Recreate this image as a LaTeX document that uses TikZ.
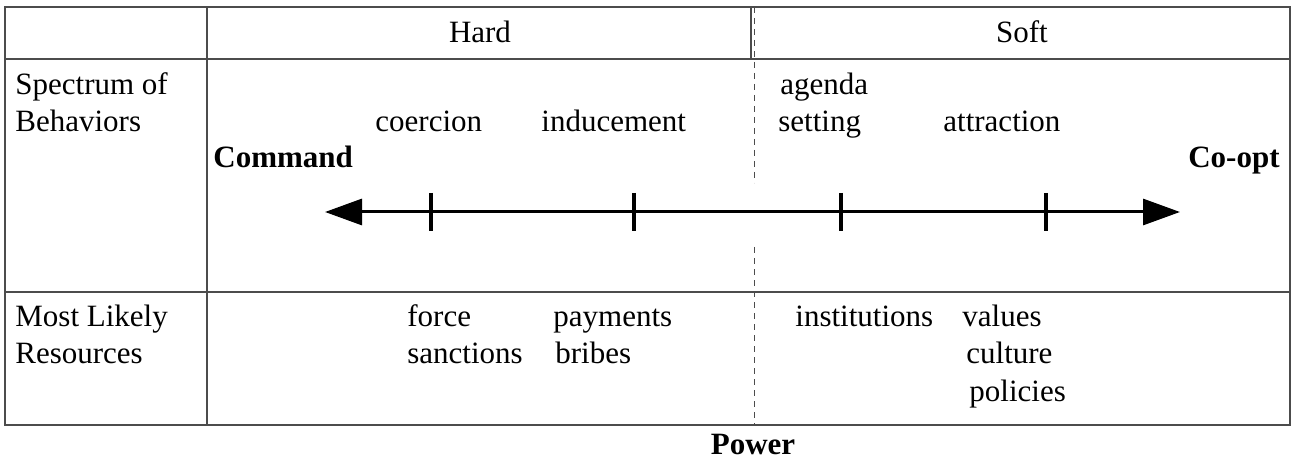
\documentclass[tikz,border=0pt]{standalone}
\usepackage{fontspec}
\setmainfont{Liberation Serif}
\usetikzlibrary{arrows.meta,calc}
\begin{document}
\begin{tikzpicture}[x=0.5pt, y=-0.5pt, font=\fontsize{15.5}{18.5}\selectfont]
    \tikzstyle{grid line}=[draw=black!70, line width=0.8pt]
    \tikzstyle{divider}=[draw=black!70, line width=0.5pt, dash pattern=on 3pt off 2.5pt]
    \tikzstyle{word}=[inner sep=0pt, anchor=base west]
    \tikzstyle{pole}=[inner sep=0pt, font=\fontsize{15.5}{18.5}\selectfont\bfseries]
    \tikzstyle{scale line}=[line width=1.5pt, {Triangle[length=18.5pt,width=13pt]}-{Triangle[length=18.5pt,width=13pt]}]
    \tikzstyle{tick}=[line width=2pt]

    \useasboundingbox (0,0) rectangle (1292,460);

    % table
    \draw[grid line] (5,7) rectangle (1290,425);
    \draw[grid line] (5,59) -- (1290,59);
    \draw[grid line] (5,292) -- (1290,292);
    \draw[grid line] (207,7) -- (207,425);
    \draw[grid line] (751,7) -- (751,59);

    % hard / soft divide
    \coordinate (divtop) at (754,7);
    \coordinate (divmid1) at (754,183);
    \coordinate (divmid2) at (754,247);
    \coordinate (divbot) at (754,425);
    \draw[divider] (divtop) -- (divmid1);
    \draw[divider] (divmid2) -- (divbot);

    % headings
    \node[inner sep=0pt, anchor=base] (hard) at (480,43) {Hard};
    \node[inner sep=0pt, anchor=base] (soft) at (1022,43) {Soft};
    \node[word] (spectrum) at (15,95) {Spectrum of};
    \node[word] (behaviors) at (15,132) {Behaviors};
    \node[word] (likely) at (15,327) {Most Likely};
    \node[word] (resources) at (15,364) {Resources};

    % behaviors
    \node[word] (agenda) at (780,95) {agenda};
    \node[word] (setting) at (778,132) {setting};
    \node[word] (coercion) at (375,132) {coercion};
    \node[word] (inducement) at (541,132) {inducement};
    \node[word] (attraction) at (943,132) {attraction};
    \node[pole, anchor=base west] (command) at (213,168) {Command};
    \node[pole, anchor=base east] (coopt) at (1280,168) {Co-opt};

    % the spectrum
    \coordinate (lend) at (325,212);
    \coordinate (rend) at (1180,212);
    \draw[scale line] (lend) -- (rend);
    \foreach \x/\n in {431/t1, 634/t2, 841/t3, 1046/t4} {
        \coordinate (\n) at (\x,212);
        \draw[tick] ($(\n)+(0,-19)$) -- ($(\n)+(0,19)$);
    }

    % resources
    \node[word] (force) at (407,327) {force};
    \node[word] (sanctions) at (407,364) {sanctions};
    \node[word] (payments) at (553,327) {payments};
    \node[word] (bribes) at (555,364) {bribes};
    \node[word] (institutions) at (795,327) {institutions};
    \node[word] (values) at (962,327) {values};
    \node[word] (culture) at (966,364) {culture};
    \node[word] (policies) at (969,401) {policies};

    \node[pole, anchor=base] (power) at (753,454) {Power};
\end{tikzpicture}
\end{document}
